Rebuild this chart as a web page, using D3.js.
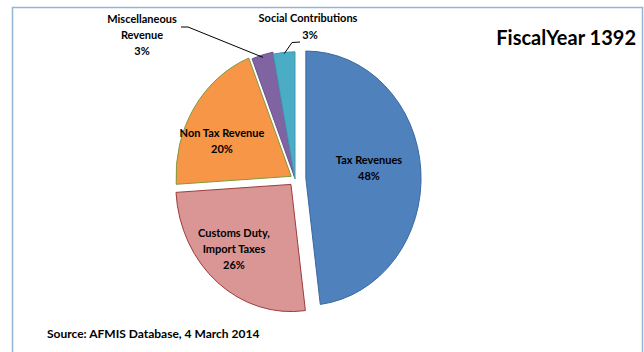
<!DOCTYPE html>
<html>
<head>
<meta charset="utf-8">
<script src="https://cdn.jsdelivr.net/npm/d3@7"></script>
<style>
  body { margin: 0; background: #fff; }
  text { font-family: Lato, "Open Sans", sans-serif; font-weight: 700; fill: #000; }
</style>
</head>
<body>
<svg id="chart" width="644" height="352"></svg>
<script>
// Revenue composition, fiscal year 1392 (shares in percent)
const categories = ["Tax Revenues", "Customs Duty, Import Taxes", "Non Tax Revenue", "Miscellaneous Revenue", "Social Contributions"];
const shares = [48, 26, 20, 3, 3];
const labelLines = [["Tax Revenues"], ["Customs Duty,", "Import Taxes"], ["Non Tax Revenue"], ["Miscellaneous", "Revenue"], ["Social Contributions"]];
const titleText = "FiscalYear 1392";
const sourceText = "Source: AFMIS Database, 4 March 2014";

// Styling
const fills = ["#4f81bd", "#d99694", "#f79646", "#8064a2", "#4bacc6"];
const strokes = ["#3a68a0", "#9b3d3b", "#7f9a3e", "#6a5290", "#3f9ab3"];
const explode = [12, 7, 5, 2, 0];          // slice pull-out along its bisector
const labelAnchor = [[369, 160], [234, 233], [222, 133.5], [142, 19], [308, 18]];
const lineGap = 16;

const svg = d3.select("#chart");

// chart frame
svg.append("rect")
  .attr("x", 12.5).attr("y", 7.5)
  .attr("width", 630).attr("height", 370)
  .attr("fill", "none")
  .attr("stroke", "#95b3d7")
  .attr("stroke-width", 1.5);

// pie (slightly narrower than tall)
const R = 127.2, sx = 115.2 / 127.2, cx = 295, cy = 179;
const arcs = d3.pie().sort(null).value(d => d)(shares);
const arc = d3.arc().innerRadius(0).outerRadius(R);
const mid = d => (d.startAngle + d.endAngle) / 2;
const offset = (d, i) => [explode[i] * Math.sin(mid(d)), -explode[i] * Math.cos(mid(d))];

const g = svg.append("g").attr("transform", `translate(${cx},${cy}) scale(${sx},1)`);
g.selectAll("path.slice").data(arcs).join("path")
  .attr("class", "slice")
  .attr("transform", (d, i) => `translate(${offset(d, i)})`)
  .attr("d", arc)
  .attr("fill", (d, i) => fills[i])
  .attr("stroke", (d, i) => strokes[i])
  .attr("stroke-width", 1)
  .attr("vector-effect", "non-scaling-stroke");

// outer edge point of a slice, in page coordinates
function edgePoint(i, frac) {
  const d = arcs[i], a = mid(d), [ox, oy] = offset(d, i);
  return [cx + sx * (ox + R * frac * Math.sin(a)), cy + oy - R * frac * Math.cos(a)];
}

// labels
labelLines.forEach((lines, i) => {
  const [x, y] = labelAnchor[i];
  const t = svg.append("text").attr("text-anchor", "middle").attr("font-size", 11);
  const all = i === 4 ? lines : lines.concat([shares[i] + "%"]);
  all.forEach((s, k) => {
    t.append("tspan").attr("x", x).attr("y", y + k * lineGap).attr("dy", "0.35em").text(s);
  });
});
// social contributions share sits just to the right of its leader
svg.append("text").attr("text-anchor", "middle").attr("font-size", 11)
  .attr("x", 310).attr("y", 35).attr("dy", "0.35em").text(shares[4] + "%");

// leader lines
const line = d3.line();
const pMisc = edgePoint(3, 0.98);
svg.append("path").attr("d", line([[181, 27], [188, 27], pMisc]))
  .attr("fill", "none").attr("stroke", "#000").attr("stroke-width", 1);
const pSoc = edgePoint(4, 0.99);
svg.append("path").attr("d", line([pSoc, [292, 42.5], [300, 42]]))
  .attr("fill", "none").attr("stroke", "#000").attr("stroke-width", 1);

// title and source
svg.append("text").attr("x", 636).attr("y", 38).attr("dy", "0.35em")
  .attr("text-anchor", "end").attr("font-size", 20).text(titleText);
svg.append("text").attr("x", 47).attr("y", 334).attr("dy", "0.35em")
  .attr("font-size", 12).text(sourceText);
</script>
</body>
</html>
